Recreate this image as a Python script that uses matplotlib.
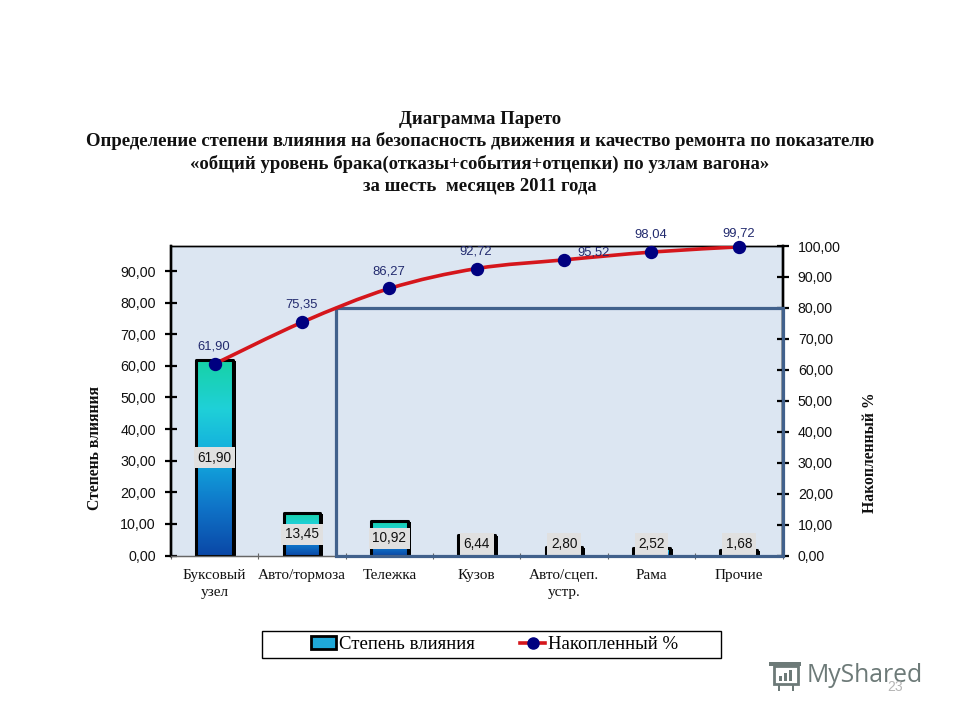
import numpy as np
import matplotlib
matplotlib.use("Agg")
import matplotlib.pyplot as plt
import matplotlib.ticker as ticker
from matplotlib.colors import LinearSegmentedColormap
from matplotlib.lines import Line2D
from matplotlib.patches import Patch, PathPatch, Rectangle
from matplotlib.path import Path

categories = ["Буксовый\nузел", "Авто/тормоза", "Тележка", "Кузов",
              "Авто/сцеп.\nустр.", "Рама", "Прочие"]
influence = [61.90, 13.45, 10.92, 6.44, 2.80, 2.52, 1.68]
cumulative = [61.90, 75.35, 86.27, 92.72, 95.52, 98.04, 99.72]
left_ticks = [0, 10, 20, 30, 40, 50, 60, 70, 80, 90]
right_ticks = [0, 10, 20, 30, 40, 50, 60, 70, 80, 90, 100]
title_lines = ["Диаграмма Парето",
               "Определение степени влияния на безопасность движения и качество ремонта по показателю",
               "«общий уровень брака(отказы+события+отцепки) по узлам вагона»",
               "за шесть  месяцев 2011 года"]

W, H = 960, 720
SERIF = "Liberation Serif"
SANS = "Liberation Sans"
NAVY = "#000080"
RED = "#d5161c"
FRAME = "#41618c"
LABEL = "#222a6e"
MARK = "#6d7a78"


def fx(px):
    return px / W


def fy(py):
    return 1 - py / H


def comma(v, pos=None):
    return f"{v:.2f}".replace(".", ",")


def mark_rect(x0, y0, w, h, **kw):
    fig.add_artist(Rectangle((fx(x0), fy(y0)), w / W, h / H, transform=fig.transFigure, **kw))


fig = plt.figure(figsize=(W / 100, H / 100), dpi=100, facecolor="white")
ax = fig.add_axes([fx(171), fy(555.5), fx(782.5 - 171), (555.5 - 246) / H])
ax.set_facecolor("#dce6f2")
ax2 = ax.twinx()

## Столбцы ====================================================================
grad = LinearSegmentedColormap.from_list(
    "bars", ["#17d2a6", "#1fd0d8", "#12aade", "#0f74c8", "#0a47a6"])
gy = np.linspace(0, 1, 256).reshape(-1, 1)
x = np.arange(len(categories))
bar_w = 0.42
px_x = 611.5 / 7  # пикселей на категорию
px_y = 309.5 / 97.94  # пикселей на единицу левой оси

# тень
ax.bar(x + 3 / px_x, influence, bar_w, bottom=-1 / px_y, color="black", zorder=2)
bars = ax.bar(x, influence, bar_w, color="none", edgecolor="black", linewidth=2.2,
              joinstyle="round", zorder=4)
for b in bars:
    im = ax.imshow(gy, cmap=grad, aspect="auto", zorder=3,
                   extent=[b.get_x(), b.get_x() + b.get_width(), 0, b.get_height()])
    im.set_clip_path(Rectangle(b.get_xy(), b.get_width(), b.get_height(), transform=ax.transData))

for i, v in enumerate(influence):
    ax.text(i, max(v / 2, 3.6), comma(v), ha="center", va="center", fontsize=9.8,
            family=SANS, color="#111111", zorder=5,
            bbox=dict(facecolor="#e0e0e0", edgecolor="none", pad=2.6))

ax.set_xlim(-0.5, 6.5)
ax.set_ylim(0, 97.94)
ax.set_yticks(left_ticks)
ax.yaxis.set_major_formatter(ticker.FuncFormatter(comma))
ax.set_xticks(x)
ax.set_xticklabels(categories, family=SERIF, fontsize=11, linespacing=1.35, color="#111111")
ax.set_xticks(np.arange(-0.5, 7), minor=True)
ax.tick_params(axis="x", which="major", length=0, pad=10)
ax.tick_params(axis="x", which="minor", length=5, width=0.8, color="#666666", direction="inout")
ax.tick_params(axis="y", direction="inout", length=8, width=1.6, pad=7, labelsize=10.3, labelcolor="#111111")
for lab in ax.get_yticklabels():
    lab.set_family(SANS)

## Накопленный % ==============================================================
pts = np.column_stack([x, cumulative])
verts = [pts[0]]
codes = [Path.MOVETO]
for i in range(len(pts) - 1):
    p0 = pts[max(i - 1, 0)]
    p1 = pts[i]
    p2 = pts[i + 1]
    p3 = pts[min(i + 2, len(pts) - 1)]
    verts += [p1 + (p2 - p0) / 6, p2 - (p3 - p1) / 6, p2]
    codes += [Path.CURVE4] * 3
ax2.add_patch(PathPatch(Path(verts, codes), facecolor="none", edgecolor=RED, linewidth=2.6, zorder=6))
ax2.plot(x, cumulative, linestyle="none", marker="o", color=NAVY, markersize=8.6, zorder=7,
         clip_on=False)

offsets = {4: (21, 5), 6: (0, 9.5)}
for i, v in enumerate(cumulative):
    ax2.annotate(comma(v), (i, v), xytext=offsets.get(i, (-0.5, 12.5)), textcoords="offset points",
                 ha="center", va="center", fontsize=9.4, family=SANS, color=LABEL, zorder=8,
                 annotation_clip=False)

ax2.set_ylim(0, 100)
ax2.set_yticks(right_ticks)
ax2.yaxis.set_major_formatter(ticker.FuncFormatter(comma))
ax2.tick_params(axis="y", direction="inout", length=8, width=1.6, pad=7, labelsize=10.2, labelcolor="#111111")
for lab in ax2.get_yticklabels():
    lab.set_family(SANS)

for a in (ax, ax2):
    a.spines["left"].set_linewidth(1.7)
    a.spines["right"].set_linewidth(1.7)
    a.spines["top"].set_linewidth(1)
    a.spines["bottom"].set_linewidth(0.9)
    a.spines["bottom"].set_color("#666666")

# рамка зоны
ax2.add_patch(Rectangle((1.39, 0), 6.5 - 1.39, 80, facecolor="none", edgecolor=FRAME,
                        linewidth=2.3, zorder=5, clip_on=False))

## Тексты =====================================================================
for line, py in zip(title_lines, [119.5, 141.5, 163.5, 185.5]):
    fig.text(fx(480), fy(py), line, ha="center", va="center", family=SERIF,
             fontweight="bold", fontsize=13.5, color="#111111")

fig.text(fx(95), fy(448), "Степень влияния", rotation=90, ha="center", va="center",
         family=SERIF, fontweight="bold", fontsize=11.3, color="#111111")
fig.text(fx(870), fy(453), "Накопленный %", rotation=90, ha="center", va="center",
         family=SERIF, fontweight="bold", fontsize=11.3, color="#111111")

## Легенда ====================================================================
mark_rect(262, 658, 459, 27, facecolor="white", edgecolor="black", linewidth=1)
handles = [Patch(facecolor="#1fa8d8", edgecolor="black", linewidth=2),
           Line2D([], [], color=RED, linewidth=2.6, marker="o", markersize=8, markerfacecolor=NAVY,
                  markeredgecolor=NAVY)]
leg = fig.legend(handles, ["Степень влияния", "Накопленный %"], ncol=2, loc="center",
                 bbox_to_anchor=(fx(494.5), fy(644.5)), frameon=False,
                 prop=dict(family=SERIF, size=13.5), handlelength=1.35, handletextpad=0.15,
                 columnspacing=2.4, borderpad=0, borderaxespad=0)

## Водяной знак ===============================================================
fig.text(fx(807), fy(675), "MyShared", ha="left", va="center", family="Open Sans",
         fontsize=17.8, color=MARK)
mark_rect(774, 684, 24, 18, facecolor="white", edgecolor=MARK, linewidth=2)
mark_rect(769, 666, 32, 4, facecolor=MARK, edgecolor="none")
for bx, bh in zip([779, 784, 789], [5, 8, 11]):
    mark_rect(bx, 681, 3, bh, facecolor=MARK, edgecolor="none")
for bx in [778, 792]:
    mark_rect(bx, 691, 2, 7, facecolor=MARK, edgecolor="none")
fig.text(fx(895), fy(687), "23", ha="center", va="center", family=SANS, fontsize=10, color="#b5b5b5")

plt.savefig("out.png", dpi=100)
